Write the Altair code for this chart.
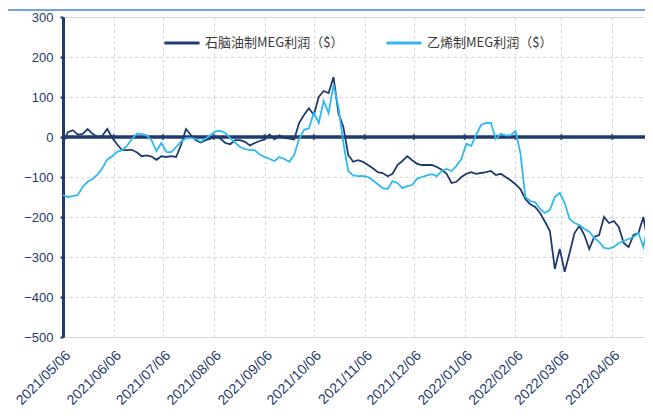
import altair as alt
import pandas as pd

# ---- data ----
start_date = "2021-05-06"
step_days = 3
naphtha_name = "石脑油制MEG利润（$）"
ethylene_name = "乙烯制MEG利润（$）"

naphtha = [-15, 12, 17, 6, 8, 20, 8, 0, 3, 20,
           -2, -18, -33, -33, -32, -38, -48, -46, -49, -57,
           -48, -50, -48, -50, -20, 20, 5, -8, -14, -8,
           -4, 2, -4, -15, -18, -8, -8, -12, -21, -15,
           -10, -6, 6, -6, 4, -2, -4, -6, 35, 55,
           72, 55, 100, 115, 110, 150, 60, 25, -45, -62,
           -58, -62, -70, -78, -88, -90, -98, -92, -70, -60,
           -48, -58, -67, -70, -70, -70, -75, -82, -92, -115,
           -112, -100, -92, -88, -92, -90, -88, -85, -95, -92,
           -100, -108, -118, -130, -155, -168, -175, -190, -212, -235,
           -330, -280, -337, -290, -240, -222, -245, -280, -250, -245,
           -200, -215, -210, -225, -265, -275, -245, -240, -200, -270,
           -265]

ethylene = [-145, -150, -148, -145, -125, -112, -105, -94, -78, -56,
            -48, -37, -33, -22, -5, 8, 8, 4, -8, -35,
            -15, -37, -38, -25, -12, -3, -2, -5, -12, -4,
            5, 14, 15, 10, -3, -14, -25, -30, -33, -33,
            -44, -50, -55, -60, -50, -55, -62, -45, -5, 18,
            22, 60, 35, 90, 60, 130, 75, -15, -85, -96,
            -98, -97, -100, -108, -118, -128, -130, -110, -115, -128,
            -123, -120, -104, -100, -96, -93, -98, -85, -80, -85,
            -72, -55, -17, -22, 5, 30, 35, 35, -5, 8,
            4, 4, 15, -40, -150, -160, -163, -180, -190, -182,
            -150, -140, -165, -205, -215, -220, -230, -237, -252, -262,
            -277, -279, -275, -265, -260, -255, -250, -240, -275, -217,
            -217]

month_ticks = ["2021-05-06", "2021-06-06", "2021-07-06", "2021-08-06",
               "2021-09-06", "2021-10-06", "2021-11-06", "2021-12-06",
               "2022-01-06", "2022-02-06", "2022-03-06", "2022-04-06"]
y_ticks = [-500, -400, -300, -200, -100, 0, 100, 200, 300]
x_domain = ["2021-05-06", "2022-04-26"]

navy = "#1f3a6e"
light = "#30b8f0"

dates = pd.date_range(start_date, periods=len(naphtha), freq=f"{step_days}D")
df = pd.concat([
    pd.DataFrame({"date": dates, "value": naphtha, "series": naphtha_name}),
    pd.DataFrame({"date": dates, "value": ethylene, "series": ethylene_name}),
])
ticks_df = pd.DataFrame({"date": pd.to_datetime(month_ticks), "value": 0})
zero_df = pd.DataFrame({"value": [0]})

x_scale = alt.Scale(domain=[pd.Timestamp(d).isoformat() for d in x_domain])
y_scale = alt.Scale(domain=[-500, 300], nice=False)

x_axis = alt.Axis(
    values=[pd.Timestamp(d).isoformat() for d in month_ticks],
    format="%Y/%m/%d", labelAngle=-45, labelAlign="right", labelBaseline="top",
    labelPadding=11, labelFont="Liberation Sans", labelFontSize=14,
    labelColor=navy, domain=False, ticks=False, grid=True, title=None,
    labelOverlap=False, labelFlush=False,
    gridColor="#d3d3d3", gridDash=[3, 3], gridWidth=1,
)
y_axis = alt.Axis(
    values=y_ticks, domain=True, domainColor=navy, domainWidth=3,
    ticks=True, tickSize=3, tickColor=navy, tickWidth=2,
    labelFont="Liberation Sans", labelFontSize=13, labelColor=navy,
    labelPadding=7, grid=True, title=None, labelOverlap=False,
    gridColor="#d3d3d3", gridDash=[3, 3], gridWidth=1,
)

X = alt.X("date:T", scale=x_scale, axis=x_axis)
Y = alt.Y("value:Q", scale=y_scale, axis=y_axis)

lines = alt.Chart(df).mark_line(strokeWidth=1.8, clip=True).encode(
    x=X, y=Y,
    color=alt.Color(
        "series:N",
        scale=alt.Scale(domain=[naphtha_name, ethylene_name], range=[navy, light]),
        sort=[naphtha_name, ethylene_name],
        legend=alt.Legend(
            orient="none", legendX=100, legendY=7, direction="horizontal",
            title=None, symbolType="stroke", symbolSize=1225,
            symbolStrokeWidth=3, labelFont="Noto Sans CJK SC", labelFontSize=13,
            labelColor="#3a3a3a", columnPadding=36, labelOffset=4,
            labelLimit=300,
        ),
    ),
    detail="series:N",
)

zero = alt.Chart(zero_df).mark_rule(color=navy, strokeWidth=3.5).encode(y=Y)

zero_ticks = alt.Chart(ticks_df).mark_tick(
    orient="vertical", color=navy, size=6, thickness=2
).encode(x=X, y=Y)

top_line = alt.Chart(alt.Data(values=[{}])).mark_rule(
    color="#6aa5dc", strokeWidth=2, clip=False
).encode(x=alt.value(-55), x2=alt.value(582), y=alt.value(-7))

chart = alt.layer(zero, zero_ticks, lines, top_line).properties(
    width=582, height=320,
    autosize=alt.AutoSizeParams(type="none"),
    padding={"left": 55, "top": 9, "right": 0, "bottom": 73},
).configure_view(stroke=None).configure(background="white")

chart.save("out.html", embed_options={"renderer": "svg", "actions": False})
